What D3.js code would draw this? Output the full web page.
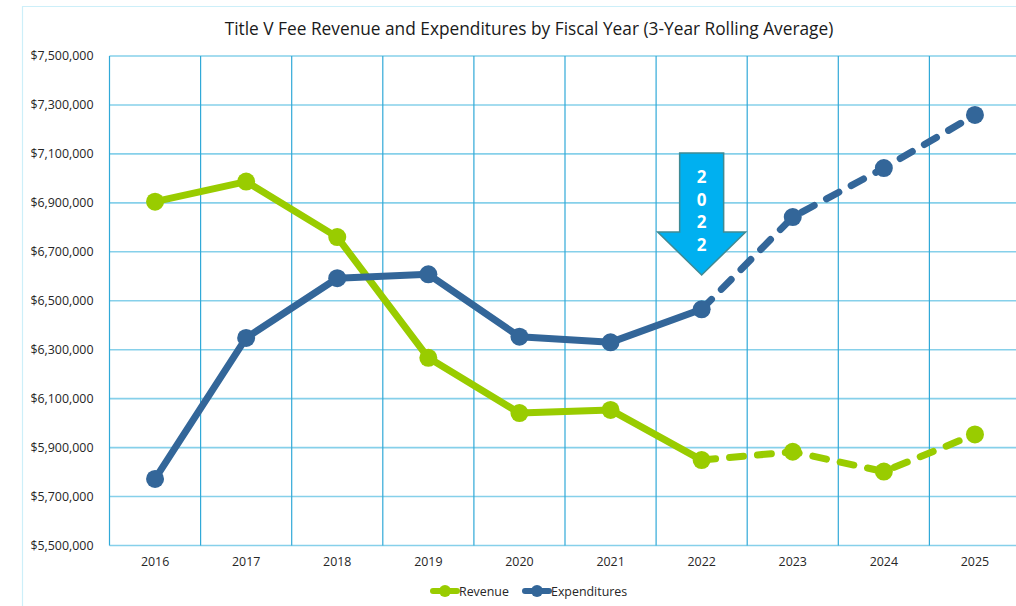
<!DOCTYPE html>
<html lang="en">
<head>
    <meta charset="UTF-8"/>
    <title>Title V Fee Revenue and Expenditures</title>
    <script src="https://d3js.org/d3.v7.min.js"></script>
    <style>
        body { margin: 0; background: #fff; overflow: hidden; }
        svg { display: block; font-family: "Open Sans", sans-serif; }
    </style>
</head>
<body>
    <div id="chart"></div>

    <script>
        // Chart data (3-year rolling average)
        const years = ["2016", "2017", "2018", "2019", "2020", "2021", "2022", "2023", "2024", "2025"];
        const revenue = [6905000, 6987000, 6760000, 6267000, 6041000, 6054000, 5849000, 5883000, 5802000, 5954000];
        const expenditures = [5772000, 6348000, 6592000, 6608000, 6353000, 6330000, 6465000, 6842000, 7042000, 7259000];
        const yTicks = [5500000, 5700000, 5900000, 6100000, 6300000, 6500000, 6700000, 6900000, 7100000, 7300000, 7500000];
        const projectionStart = "2022";
        const seriesNames = ["Revenue", "Expenditures"];
        const seriesColors = ["#99cc00", "#336699"];

        const w = 1016;
        const h = 606;
        const margin = { top: 56, right: -4.5, bottom: 60.5, left: 109.5 };
        const innerWidth = w - margin.left - margin.right;
        const innerHeight = h - margin.top - margin.bottom;

        const svg = d3.select("#chart")
            .append("svg")
            .attr("width", w)
            .attr("height", h);

        // light outer frame of the chart (cropped at right and bottom)
        svg.append("path")
            .attr("d", `M22.5,${h} L22.5,6.5 L${w},6.5`)
            .attr("fill", "none")
            .attr("stroke", "#cdeff9")
            .attr("stroke-width", 1.2);

        svg.append("text")
            .attr("x", 529)
            .attr("y", 35)
            .attr("text-anchor", "middle")
            .attr("font-size", "17.3px")
            .attr("fill", "#1a1a1a")
            .text("Title V Fee Revenue and Expenditures by Fiscal Year (3-Year Rolling Average)");

        const chart = svg.append("g")
            .attr("transform", `translate(${margin.left}, ${margin.top})`);

        const x = d3.scaleBand()
            .domain(years)
            .range([0, innerWidth]);

        const y = d3.scaleLinear()
            .domain([5500000, 7500000])
            .range([innerHeight, 0]);

        // horizontal gridlines (clipped at the right edge of the picture)
        chart.append("g")
            .selectAll("line")
            .data(yTicks)
            .enter()
            .append("line")
            .attr("x1", 0)
            .attr("x2", w - margin.left)
            .attr("y1", d => y(d))
            .attr("y2", d => y(d))
            .attr("stroke", "#86d0ea")
            .attr("stroke-width", 1.6);

        // vertical gridlines at the category boundaries
        chart.append("g")
            .selectAll("line")
            .data(years)
            .enter()
            .append("line")
            .attr("x1", d => x(d))
            .attr("x2", d => x(d))
            .attr("y1", 0)
            .attr("y2", innerHeight)
            .attr("stroke", "#30a9d8")
            .attr("stroke-width", 1.2);

        // y axis labels
        const yAxis = chart.append("g")
            .call(d3.axisLeft(y).tickValues(yTicks).tickSize(0).tickPadding(16).tickFormat(d3.format("$,")));
        yAxis.select(".domain").remove();
        yAxis.selectAll("text")
            .attr("font-family", "'Open Sans', sans-serif")
            .attr("font-size", "12.4px")
            .attr("fill", "#262626");

        // x axis labels
        const xAxis = chart.append("g")
            .attr("transform", `translate(0, ${innerHeight})`)
            .call(d3.axisBottom(x).tickSize(0).tickPadding(12));
        xAxis.select(".domain").remove();
        xAxis.selectAll("text")
            .attr("font-family", "'Open Sans', sans-serif")
            .attr("font-size", "12.4px")
            .attr("fill", "#262626");

        const cx = d => x(d.year) + x.bandwidth() / 2;
        const line = d3.line().x(cx).y(d => y(d.value));
        const splitIdx = years.indexOf(projectionStart);

        [revenue, expenditures].forEach((values, s) => {
            const pts = years.map((yr, i) => ({ year: yr, value: values[i] }));
            const g = chart.append("g");

            g.append("path")
                .datum(pts.slice(0, splitIdx + 1))
                .attr("d", line)
                .attr("fill", "none")
                .attr("stroke", seriesColors[s])
                .attr("stroke-width", 7)
                .attr("stroke-linejoin", "round")
                .attr("stroke-linecap", "round");

            g.append("path")
                .datum(pts.slice(splitIdx))
                .attr("d", line)
                .attr("fill", "none")
                .attr("stroke", seriesColors[s])
                .attr("stroke-width", 7)
                .attr("stroke-linecap", "round")
                .attr("stroke-dasharray", "14 14");

            g.selectAll("circle")
                .data(pts)
                .enter()
                .append("circle")
                .attr("cx", cx)
                .attr("cy", d => y(d.value))
                .attr("r", 9)
                .attr("fill", seriesColors[s]);
        });

        // "2022" arrow callout above the projection start
        const ax = x(projectionStart) + x.bandwidth() / 2;
        const arrowTop = 97, shaftHalf = 22, headHalf = 44, headBase = 176, tip = 219;
        chart.append("path")
            .attr("d", `M${ax - shaftHalf},${arrowTop} L${ax + shaftHalf},${arrowTop} L${ax + shaftHalf},${headBase}
                        L${ax + headHalf},${headBase} L${ax},${tip} L${ax - headHalf},${headBase}
                        L${ax - shaftHalf},${headBase} Z`)
            .attr("fill", "#00b0f0")
            .attr("stroke", "#3f8a94")
            .attr("stroke-width", 1.5);

        chart.selectAll(".arrow-digit")
            .data(projectionStart.split(""))
            .enter()
            .append("text")
            .attr("class", "arrow-digit")
            .attr("x", ax)
            .attr("y", (d, i) => 127 + i * 22.5)
            .attr("text-anchor", "middle")
            .attr("font-size", "17px")
            .attr("font-weight", "bold")
            .attr("fill", "#ffffff")
            .text(d => d);

        // legend
        const legendX = [431, 523];
        const legend = svg.append("g");
        seriesNames.forEach((name, i) => {
            const lg = legend.append("g").attr("transform", `translate(${legendX[i]}, 591)`);
            lg.append("line")
                .attr("x1", 2).attr("x2", 26)
                .attr("y1", 0).attr("y2", 0)
                .attr("stroke", seriesColors[i])
                .attr("stroke-width", 6)
                .attr("stroke-linecap", "round");
            lg.append("circle")
                .attr("cx", 14).attr("cy", 0).attr("r", 6)
                .attr("fill", seriesColors[i]);
            lg.append("text")
                .attr("x", 28)
                .attr("y", 4.5)
                .attr("font-size", "12.4px")
                .attr("fill", "#262626")
                .text(name);
        });
    </script>
</body>
</html>
